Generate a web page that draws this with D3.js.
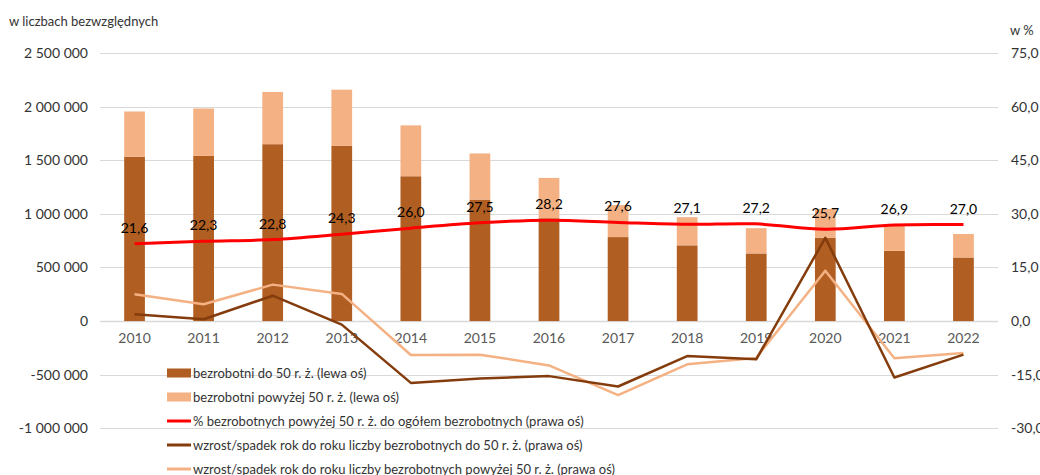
<!DOCTYPE html>
<html>
<head>
<meta charset="utf-8">
<script src="https://cdn.jsdelivr.net/npm/d3@7"></script>
<style>
  html, body { margin: 0; padding: 0; background: #fff; }
  svg { display: block; font-family: Lato, "Open Sans", sans-serif; }
</style>
</head>
<body>
<svg id="chart" width="1040" height="475"></svg>
<script>
const years = ["2010","2011","2012","2013","2014","2015","2016","2017","2018","2019","2020","2021","2022"];
const under50 = [1532500, 1540500, 1649600, 1633500, 1350600, 1133400, 958600, 783200, 706300, 630700, 777500, 654400, 593000];
const over50  = [422200, 442100, 487200, 524400, 474500, 429900, 376500, 298600, 262600, 235700, 268900, 240800, 219300];
const pctOver50 = [21.6, 22.3, 22.8, 24.3, 26.0, 27.5, 28.2, 27.6, 27.1, 27.2, 25.7, 26.9, 27.0];
const yoyUnder50 = [1.9, 0.5, 7.1, -1.0, -17.3, -16.1, -15.4, -18.3, -9.8, -10.7, 23.3, -15.8, -9.4];
const yoyOver50 = [7.5, 4.7, 10.2, 7.6, -9.5, -9.4, -12.4, -20.7, -12.1, -10.3, 14.1, -10.4, -8.9];
const leftTicks = [-1000000, -500000, 0, 500000, 1000000, 1500000, 2000000, 2500000];
const rightTicks = [-30, -15, 0, 15, 30, 45, 60, 75];
const legendLabels = [
  "bezrobotni do 50 r. ż. (lewa oś)",
  "bezrobotni powyżej 50 r. ż. (lewa oś)",
  "% bezrobotnych powyżej 50 r. ż. do ogółem bezrobotnych (prawa oś)",
  "wzrost/spadek rok do roku liczby bezrobotnych do 50 r. ż. (prawa oś)",
  "wzrost/spadek rok do roku liczby bezrobotnych powyżej 50 r. ż. (prawa oś)"
];

const C = { dark: "#B15E22", light: "#F4B183", red: "#FF0000", brown: "#843C0C", lightLine: "#F4B183", grid: "#D9D9D9" };

const svg = d3.select("#chart");
const L = 100, R = 998, T = 53, B = 428.3;

const loc = d3.formatLocale({ decimal: ",", thousands: "\u00a0", grouping: [3], currency: ["", ""], minus: "-" });
const fmtL = loc.format(",.0f");
const fmtR = loc.format(".1f");

const x = d3.scaleBand().domain(years).range([L, R]).paddingInner(0.7).paddingOuter(0.35);
const yL = d3.scaleLinear().domain([-1000000, 2500000]).range([B, T]);
const yR = d3.scaleLinear().domain([-30, 75]).range([B, T]);

// gridlines
svg.append("g").selectAll("line").data(leftTicks).join("line")
  .attr("x1", L).attr("x2", R)
  .attr("y1", d => Math.round(yL(d)) + 0.5).attr("y2", d => Math.round(yL(d)) + 0.5)
  .attr("stroke", C.grid).attr("stroke-width", d => d === 0 ? 1.5 : 1);

// left axis
const axL = svg.append("g").attr("transform", `translate(${L},0)`)
  .call(d3.axisLeft(yL).tickValues(leftTicks).tickFormat(fmtL).tickSize(0).tickPadding(12));
axL.select(".domain").remove();
axL.selectAll("text").attr("font-size", 14).attr("fill", "#333").attr("font-family", "Lato");

// right axis
const axR = svg.append("g").attr("transform", `translate(${R},0)`)
  .call(d3.axisRight(yR).tickValues(rightTicks).tickFormat(fmtR).tickSize(0).tickPadding(13));
axR.select(".domain").remove();
axR.selectAll("text").attr("font-size", 14).attr("fill", "#333").attr("font-family", "Lato");

// axis titles
svg.append("text").attr("x", 9).attr("y", 26).attr("font-size", 13).attr("fill", "#333").text("w liczbach bezwzględnych");
svg.append("text").attr("x", 1010).attr("y", 35).attr("font-size", 13).attr("fill", "#333").text("w %");

// bars
const bars = svg.append("g");
bars.selectAll("rect.u").data(years).join("rect").attr("class", "u")
  .attr("x", d => x(d)).attr("width", x.bandwidth())
  .attr("y", (d, i) => yL(under50[i])).attr("height", (d, i) => yL(0) - yL(under50[i]))
  .attr("fill", C.dark);
bars.selectAll("rect.o").data(years).join("rect").attr("class", "o")
  .attr("x", d => x(d)).attr("width", x.bandwidth())
  .attr("y", (d, i) => yL(under50[i] + over50[i])).attr("height", (d, i) => yL(under50[i]) - yL(under50[i] + over50[i]))
  .attr("fill", C.light);

// x labels
svg.append("g").selectAll("text").data(years).join("text")
  .attr("x", d => x(d) + x.bandwidth() / 2).attr("y", 343)
  .attr("text-anchor", "middle").attr("font-size", 14).attr("fill", "#595959").text(d => d);

const cx = d => x(d) + x.bandwidth() / 2;

// lines
const lineR = (arr, curve) => d3.line().x((d, i) => cx(years[i])).y(d => yR(d)).curve(curve)(arr);
svg.append("path").attr("d", lineR(yoyOver50, d3.curveLinear)).attr("fill", "none").attr("stroke", C.lightLine).attr("stroke-width", 2.5).attr("stroke-linejoin", "round");
svg.append("path").attr("d", lineR(yoyUnder50, d3.curveLinear)).attr("fill", "none").attr("stroke", C.brown).attr("stroke-width", 2.5).attr("stroke-linejoin", "round");
svg.append("path").attr("d", lineR(pctOver50, d3.curveCatmullRom.alpha(0.5))).attr("fill", "none").attr("stroke", C.red).attr("stroke-width", 3).attr("stroke-linejoin", "round");

// pct labels
svg.append("g").selectAll("text").data(pctOver50).join("text")
  .attr("x", (d, i) => cx(years[i])).attr("y", d => yR(d) - 11)
  .attr("text-anchor", "middle").attr("font-size", 14).attr("fill", "#000").text(d => fmtR(d));

// legend
const lg = svg.append("g");
const lx = 167, ly0 = 373, ldy = 24;
legendLabels.forEach((lab, i) => {
  const yy = ly0 + i * ldy;
  if (i < 2) {
    lg.append("rect").attr("x", lx).attr("y", yy - 4.5).attr("width", 24).attr("height", 9).attr("fill", i === 0 ? C.dark : C.light);
  } else {
    lg.append("line").attr("x1", lx).attr("x2", lx + 24).attr("y1", yy).attr("y2", yy)
      .attr("stroke", [C.red, C.brown, C.lightLine][i - 2]).attr("stroke-width", 3);
  }
  lg.append("text").attr("x", lx + 26).attr("y", yy + 5).attr("font-size", 13).attr("fill", "#333").text(lab);
});
</script>
</body>
</html>
